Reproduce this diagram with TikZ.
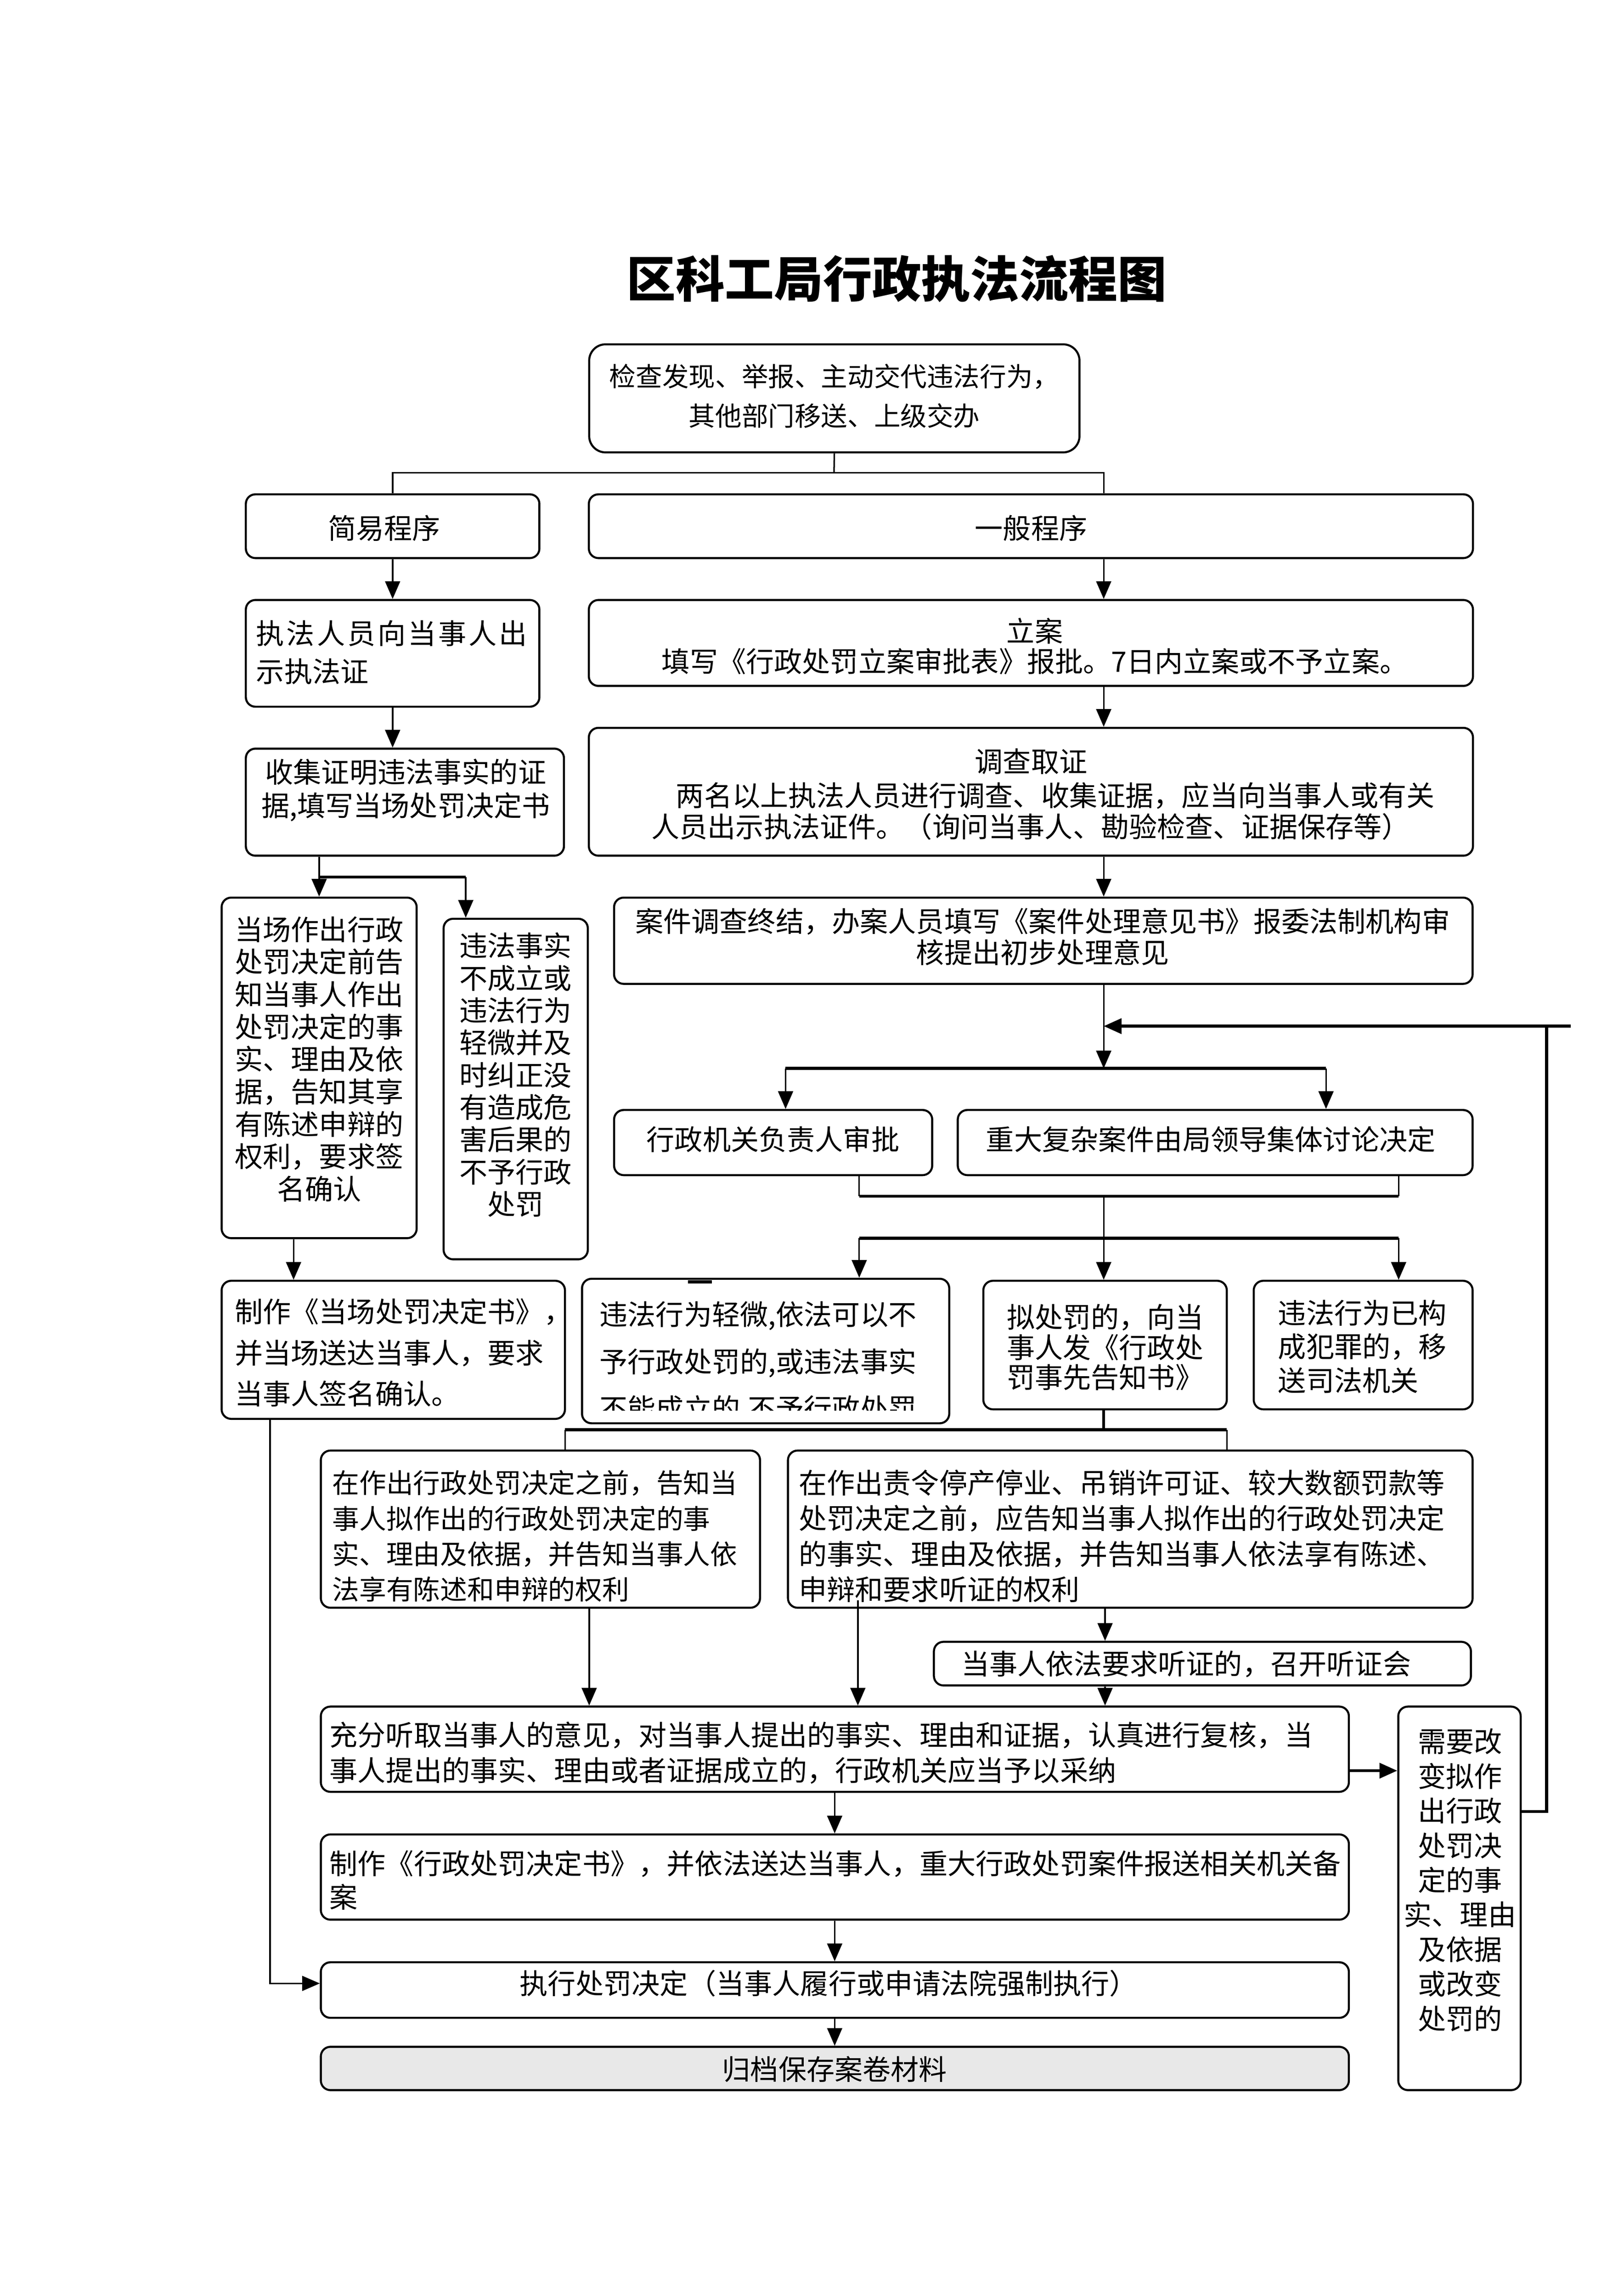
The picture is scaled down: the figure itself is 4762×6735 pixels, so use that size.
\documentclass[tikz,border=0pt]{standalone}
\usepackage{fontspec}
\newfontfamily\cjk{Noto Sans CJK SC}
\usetikzlibrary{arrows.meta,fit}
\begin{document}
\begin{tikzpicture}[x=0.125pt,y=-0.125pt,
  box/.style={draw,line width=0.75pt,rounded corners=3.5pt,inner sep=0pt},
  t/.style={inner sep=0pt,font=\cjk\fontsize{10.3}{#1}\selectfont},
  t/.default=13,
  ln/.style={line width=0.55pt},
  thk/.style={line width=1.1pt},
  arr/.style={-{Triangle[length=6.5pt,width=5.5pt]}},
]
\useasboundingbox (0,0) rectangle (4762,6735);

% ---------- title ----------
\node[inner sep=0pt,font=\cjk\bfseries\fontsize{18}{22}\selectfont] (title) at (2630,818) {区科工局行政执法流程图};

% ---------- boxes ----------
\node[box,rounded corners=6pt,fit={(1728,1010) (3166,1327)}] (top) {};
\node[box,fit={(721,1450) (1582,1637)}] (jianyi) {};
\node[box,fit={(1727,1450) (4320,1637)}] (yiban) {};
\node[box,fit={(721,1760) (1582,2073)}] (zhifa) {};
\node[box,fit={(1727,1760) (4320,2012)}] (lian) {};
\node[box,fit={(721,2196) (1654,2510)}] (shouji) {};
\node[box,fit={(1727,2135) (4320,2510)}] (diaocha) {};
\node[box,fit={(650,2633) (1222,3632)}] (dangchang) {};
\node[box,fit={(1301,2695) (1724,3694)}] (weifa) {};
\node[box,fit={(1801,2633) (4319,2886)}] (anjian) {};
\node[box,fit={(1801,3256) (2734,3447)}] (shenpi) {};
\node[box,fit={(2809,3256) (4319,3447)}] (zhongda) {};
\node[box,fit={(650,3757) (1657,4162)}] (zhizuo) {};
\node[box,fit={(1707,3751) (2784,4175)}] (qingwei) {};
\node[box,fit={(2884,3757) (3598,4134)}] (nichufa) {};
\node[box,fit={(3677,3757) (4319,4134)}] (fanzui) {};
\node[box,fit={(941,4255) (2229,4716)}] (gaozhiA) {};
\node[box,fit={(2311,4255) (4319,4716)}] (gaozhiB) {};
\node[box,fit={(2739,4816) (4314,4944)}] (tingzheng) {};
\node[box,fit={(941,5006) (3956,5256)}] (chongfen) {};
\node[box,fit={(4101,5006) (4460,6131)}] (xuyao) {};
\node[box,fit={(941,5381) (3956,5631)}] (jueding) {};
\node[box,fit={(941,5756) (3956,5919)}] (zhixing) {};
\node[box,fill=black!9,fit={(941,6004) (3956,6131)}] (guidang) {};

% ---------- texts ----------
\node[inner sep=0pt,font=\cjk\fontsize{9.7}{14.5}\selectfont,align=center] (topT) at (2447,1162) {检查发现、举报、主动交代违法行为，\\其他部门移送、上级交办};
\node[t] (jianyiT) at (1127,1549) {简易程序};
\node[t] (yibanT) at (3024,1549) {一般程序};
\node[t=13.9,align=left,anchor=west] (zhifaT) at (750,1914) {{\addfontfeature{LetterSpace=8}执法人员向当事人出}\\示执法证};
\node[t=12.4,align=center] (shoujiT) at (1190,2318) {收集证明违法事实的证\\据,填写当场处罚决定书};
\node[t=11.1,align=center] (lianT) at (3035,1895) {立案\\填写《行政处罚立案审批表》报批。7日内立案或不予立案。};
\node[t] (diaochaT) at (3024,2234) {调查取证};
\node[t,anchor=west] (diaochaT2) at (1981,2334) {两名以上执法人员进行调查、收集证据，应当向当事人或有关};
\node[t,anchor=west] (diaochaT3) at (1909,2425) {人员出示执法证件。（询问当事人、勘验检查、证据保存等）};
\node[t=11.9,align=center] (dangchangT) at (936,3107) {当场作出行政\\处罚决定前告\\知当事人作出\\处罚决定的事\\实、理由及依\\据，告知其享\\有陈述申辩的\\权利，要求签\\名确认};
\node[t=11.85,align=center] (weifaT) at (1512,3153) {违法事实\\不成立或\\违法行为\\轻微并及\\时纠正没\\有造成危\\害后果的\\不予行政\\处罚};
\node[t=11.4,align=center] (anjianT) at (3058,2748) {案件调查终结，办案人员填写《案件处理意见书》报委法制机构审\\核提出初步处理意见};
\node[t] (shenpiT) at (2267,3342) {行政机关负责人审批};
\node[t] (zhongdaT) at (3551,3342) {重大复杂案件由局领导集体讨论决定};
\node[t=15.1,align=left,anchor=west] (zhizuoT) at (687,3968) {制作《当场处罚决定书》，\\并当场送达当事人，要求\\当事人签名确认。};
\begin{scope}
\clip (1707,3751) rectangle (2784,4137);
\node[t=17.2,align=left,anchor=west] (qingweiT) at (1757,3998) {违法行为轻微,依法可以不\\予行政处罚的,或违法事实\\不能成立的,不予行政处罚};
\end{scope}
\draw[line width=1.1pt] (2018,3760) -- (2088,3760);
\node[t=11.1,align=left,anchor=west] (nichufaT) at (2951,3952) {拟处罚的，向当\\事人发《行政处\\罚事先告知书》};
\node[t=12.4,align=left,anchor=west] (fanzuiT) at (3747,3950) {违法行为已构\\成犯罪的，移\\送司法机关};
\node[inner sep=0pt,font=\cjk\fontsize{9.9}{13}\selectfont,align=left,anchor=west] (gaozhiAT) at (973,4506) {在作出行政处罚决定之前，告知当\\事人拟作出的行政处罚决定的事\\实、理由及依据，并告知当事人依\\法享有陈述和申辩的权利};
\node[t=13,align=left,anchor=west] (gaozhiBT) at (2341,4506) {在作出责令停产停业、吊销许可证、较大数额罚款等\\处罚决定之前，应告知当事人拟作出的行政处罚决定\\的事实、理由及依据，并告知当事人依法享有陈述、\\申辩和要求听证的权利};
\node[t] (tingzhengT) at (3479,4881) {当事人依法要求听证的，召开听证会};
\node[t=12.9,align=left,anchor=west] (chongfenT) at (965,5142) {充分听取当事人的意见，对当事人提出的事实、理由和证据，认真进行复核，当\\事人提出的事实、理由或者证据成立的，行政机关应当予以采纳};
\node[t=12.7,align=center] (xuyaoT) at (4282,5515) {需要改\\变拟作\\出行政\\处罚决\\定的事\\实、理由\\及依据\\或改变\\处罚的};
\node[t=12.25,align=left,anchor=west] (juedingT) at (965,5515) {制作《行政处罚决定书》，并依法送达当事人，重大行政处罚案件报送相关机关备\\案};
\node[t] (zhixingT) at (2430,5818) {执行处罚决定（当事人履行或申请法院强制执行）};
\node[t] (guidangT) at (2448,6070) {归档保存案卷材料};

% ---------- connectors ----------
\coordinate (mx) at (3237,0);
\coordinate (s1) at (2446,1387);
\draw[ln] (top.south) -- (s1);
\draw[ln] (jianyi.north) |- (s1) -| (yiban.north -| mx);
\draw[ln,arr] (jianyi.south) -- (zhifa.north);
\draw[ln,arr] (zhifa.south) -- (zhifa.south |- shouji.north);
\draw[ln,arr] (yiban.south -| mx) -- (lian.north -| mx);
\draw[ln,arr] (lian.south -| mx) -- (diaocha.north -| mx);
\draw[ln,arr] (diaocha.south -| mx) -- (anjian.north -| mx);

\draw[ln,arr] (shouji.south -| dangchang.north) -- (dangchang.north);
\coordinate (b1) at (936,2573);
\coordinate (b2) at (1366,2573);
\draw[thk] (b1) -- (b2);
\draw[ln,arr] (b2) -- (b2 |- weifa.north);

\coordinate (fb) at (3237,3010);
\coordinate (br1) at (3237,3134);
\coordinate (br1l) at (2304,3134);
\coordinate (br1r) at (3889,3134);
\draw[ln,arr] (anjian.south -| mx) -- (br1);
\draw[thk] (br1l) -- (br1r);
\draw[ln,arr] (br1l) -- (br1l |- shenpi.north);
\draw[ln,arr] (br1r) -- (br1r |- zhongda.north);

\coordinate (j1) at (2520,3509);
\coordinate (j2) at (4102,3509);
\draw[ln] (j1 |- shenpi.south) -- (j1);
\draw[ln] (j2 |- zhongda.south) -- (j2);
\draw[thk] (j1) -- (j2);
\coordinate (br2l) at (2520,3632);
\coordinate (br2r) at (4102,3632);
\draw[ln] (mx |- j1) -- (mx |- br2l);
\draw[thk] (br2l) -- (br2r);
\draw[ln,arr] (br2l) -- (br2l |- qingwei.north);
\draw[ln,arr] (mx |- br2l) -- (nichufa.north -| mx);
\draw[ln,arr] (br2r) -- (br2r |- fanzui.north);

\coordinate (d1) at (861,0);
\draw[ln,arr] (dangchang.south -| d1) -- (zhizuo.north -| d1);
\coordinate (lx) at (792,0);
\coordinate (ly) at (0,5818);
\draw[ln,arr] (zhizuo.south -| lx) |- (zhixing.west |- ly);

\coordinate (g0) at (3237,4194);
\coordinate (g1) at (1657,4194);
\coordinate (g2) at (3598,4194);
\draw[thk] (nichufa.south -| mx) -- (g0);
\draw[thk] (g1) -- (g2);
\draw[ln] (g1) -- (g1 |- gaozhiA.north);
\draw[ln] (g2) -- (g2 |- gaozhiB.north);

\coordinate (a1) at (1728,0);
\draw[ln,arr] (gaozhiA.south -| a1) -- (chongfen.north -| a1);
\coordinate (a2) at (2516,4694);
\draw[ln,arr] (a2) -- (chongfen.north -| a2);
\coordinate (a3) at (3241,0);
\draw[ln,arr] (gaozhiB.south -| a3) -- (tingzheng.north -| a3);
\draw[ln,arr] (tingzheng.south -| a3) -- (chongfen.north -| a3);

\coordinate (a4) at (0,5194);
\draw[thk,arr] (chongfen.east |- a4) -- (xuyao.west |- a4);
\coordinate (a5) at (0,5314);
\coordinate (rx) at (4536,3010);
\coordinate (rx2) at (4607,3010);
\draw[thk] (xuyao.east |- a5) -| (rx);
\draw[thk,arr] (rx2) -- (fb);

\coordinate (cx) at (2448,0);
\draw[ln,arr] (chongfen.south -| cx) -- (jueding.north -| cx);
\draw[ln,arr] (jueding.south -| cx) -- (zhixing.north -| cx);
\draw[ln,arr] (zhixing.south -| cx) -- (guidang.north -| cx);
\end{tikzpicture}
\end{document}
